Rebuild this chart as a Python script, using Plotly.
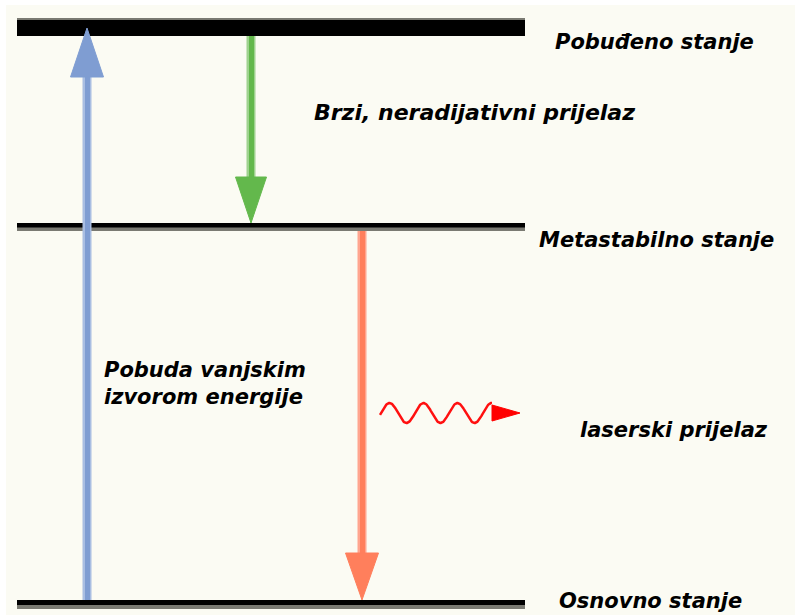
import numpy as np
import plotly.graph_objects as go

# ---- data (schematic, in picture units: x to the right, y downward) ----
level_names = ["Pobuđeno stanje", "Metastabilno stanje", "Osnovno stanje"]
level_y = [27, 227, 604]
level_x0 = 17
level_x1 = 525

transition_labels = ["Pobuda vanjskim<br>izvorom energije", "Brzi, neradijativni prijelaz", "laserski prijelaz"]
transition_x = [87, 251, 362]
transition_from = [2, 0, 1]   # level index
transition_to = [0, 1, 2]

BG = "#fbfbf3"
fig = go.Figure()

# levels: (black band top, black band bottom, gray band top, gray band bottom)
level_bands = [(20, 36, 18, 20.5), (223, 227.5, 227, 231), (600, 605, 604.5, 609)]
for y, (b0, b1, g0, g1) in zip(level_y, level_bands):
    fig.add_trace(go.Scatter(x=[level_x0, level_x1], y=[(g0 + g1) / 2] * 2, mode="lines",
                             line=dict(color="#7a7a72", width=g1 - g0), hoverinfo="skip", showlegend=False))
    fig.add_trace(go.Scatter(x=[level_x0, level_x1], y=[(b0 + b1) / 2] * 2, mode="lines",
                             line=dict(color="#000000", width=b1 - b0), hoverinfo="skip", showlegend=False))

# arrows
arrow_cols = [("#a9bee2", "#7f9dd2"), ("#9ed28e", "#63b84c"), ("#ffa58f", "#ff7f5c")]
head_len = [49, 46, 47]
head_w = [33, 31, 33]
edge = {0: (36, 18), 1: (231, 223), 2: (609, 600)}  # (bottom edge, top edge) of each level
for i in range(3):
    x = transition_x[i]
    f, t = transition_from[i], transition_to[i]
    light, dark = arrow_cols[i]
    if level_y[t] < level_y[f]:  # upward
        y_start = edge[f][1]
        tip = edge[t][0] - 8
        base = tip + head_len[i]
    else:
        y_start = edge[f][0]
        tip = edge[t][1]
        base = tip - head_len[i]
    fig.add_trace(go.Scatter(x=[x, x], y=[y_start, base], mode="lines",
                             line=dict(color=light, width=9), hoverinfo="skip", showlegend=False))
    fig.add_trace(go.Scatter(x=[x + 0.5, x + 0.5], y=[y_start, base], mode="lines",
                             line=dict(color=dark, width=5), hoverinfo="skip", showlegend=False))
    hw = head_w[i] / 2
    fig.add_trace(go.Scatter(x=[x - hw, x + hw, x, x - hw], y=[base, base, tip, base], mode="lines",
                             fill="toself", fillcolor=dark, line=dict(color=dark, width=1),
                             hoverinfo="skip", showlegend=False))

# photon (wavy arrow glyph)
wx = np.linspace(380, 492, 200)
wy = 413 - 10 * np.sin((wx - 381) / 34.0 * 2 * np.pi)
fig.add_trace(go.Scatter(x=wx, y=wy, mode="lines", line=dict(color="#ff1010", width=2.5),
                         hoverinfo="skip", showlegend=False))
fig.add_trace(go.Scatter(x=[492, 520, 492, 492], y=[405, 413, 421, 405], mode="lines", fill="toself",
                         fillcolor="#ff0000", line=dict(color="#ff0000", width=1),
                         hoverinfo="skip", showlegend=False))

labels = [
    (level_names[0], 553, 42, 21),
    (transition_labels[1], 312, 112, 22),
    (level_names[1], 537, 240, 21),
    (transition_labels[0], 102, 383, 21),
    (transition_labels[2], 578, 430, 21),
    (level_names[2], 557, 601, 21),
]
for txt, x, y, s in labels:
    fig.add_annotation(x=x, y=y, text=txt, showarrow=False, xanchor="left", yanchor="middle",
                       align="left",
                       font=dict(family="DejaVu Sans", size=s, color="#000000", weight="bold", style="italic"))

fig.update_layout(
    width=795, height=616, margin=dict(l=0, r=0, t=0, b=0),
    paper_bgcolor="#ffffff", plot_bgcolor="#ffffff",
    xaxis=dict(range=[0, 795], visible=False, fixedrange=True),
    yaxis=dict(range=[616, 0], visible=False, fixedrange=True),
    shapes=[dict(type="rect", xref="x", yref="y", x0=6, x1=795, y0=5, y1=615,
                 fillcolor=BG, line=dict(width=0), layer="below")],
)
fig.write_html("out.html", config={"displayModeBar": False},
               post_script="document.body.style.margin='0';document.body.style.overflow='hidden';")
